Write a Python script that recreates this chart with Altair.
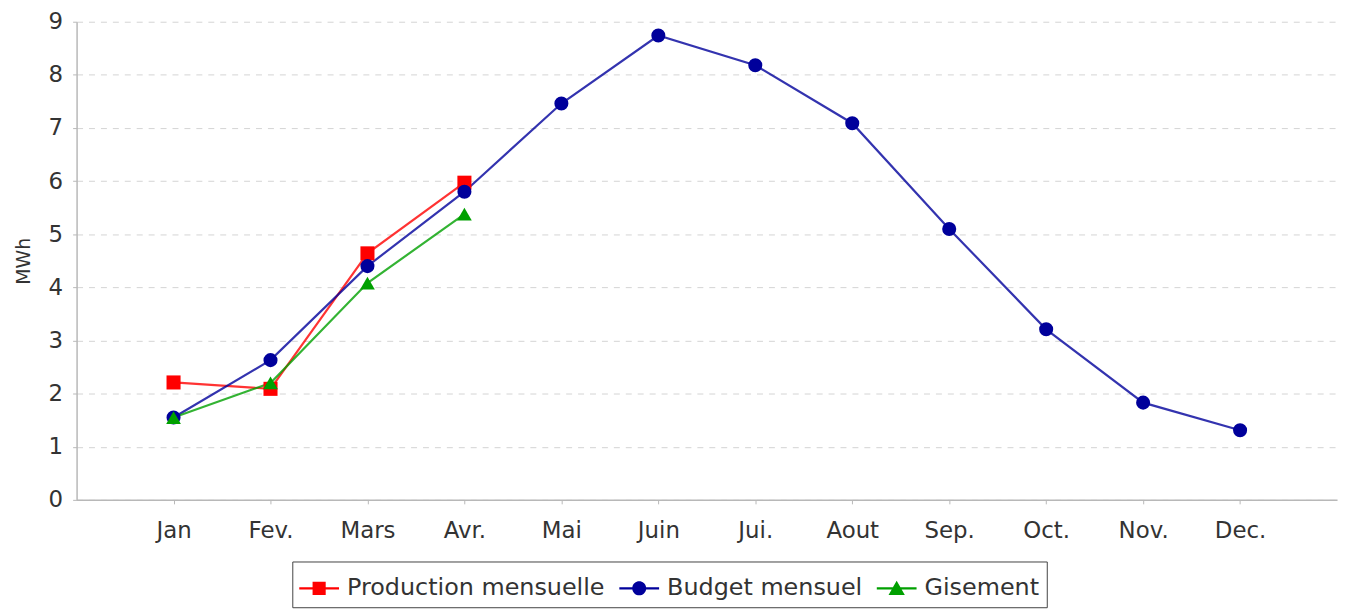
import altair as alt
import pandas as pd

months = ["Jan", "Fev.", "Mars", "Avr.", "Mai", "Juin", "Jui.", "Aout", "Sep.", "Oct.", "Nov.", "Dec."]
production = [2.21, 2.09, 4.64, 5.97]
budget = [1.55, 2.63, 4.40, 5.80, 7.46, 8.74, 8.18, 7.09, 5.10, 3.21, 1.83, 1.31]
gisement = [1.55, 2.20, 4.08, 5.38]
series_names = ["Production mensuelle", "Budget mensuel", "Gisement"]
colors = ["#ff0000", "#00009b", "#00a000"]
marker_shapes = ["square", "circle", "triangle-up"]
y_ticks = [0, 1, 2, 3, 4, 5, 6, 7, 8, 9]

legend_paths = [
    "M-1,-0.055H-0.33V-0.33H0.33V-0.055H1V0.055H0.33V0.33H-0.33V0.055H-1Z",
    "M-1,-0.055H-0.346A0.35,0.35 0 0 1 0.346,-0.055H1V0.055H0.346A0.35,0.35 0 0 1 -0.346,0.055H-1Z",
    "M-1,-0.055H-0.19L0,-0.38L0.19,-0.055H1V0.055H0.25L0.41,0.33H-0.41L-0.25,0.055H-1Z",
]

rows = []
for s_i, (name, vals) in enumerate(zip(series_names, [production, budget, gisement])):
    for m_i, (m, v) in enumerate(zip(months, vals)):
        rows.append({"month": m, "idx": m_i, "series": name, "s": s_i, "value": v})
df = pd.DataFrame(rows)

x = alt.X(
    "month:N",
    sort=months,
    scale=alt.Scale(domain=months, type="point", padding=1.03),
    axis=alt.Axis(title=None, labelAngle=0, grid=False, labelPadding=16),
)
y = alt.Y(
    "value:Q",
    scale=alt.Scale(domain=[0, 9], nice=False, zero=True),
    axis=alt.Axis(
        title="MWh", values=y_ticks, grid=True, gridDash=[6, 6], gridColor="#d4d4d4",
        labelPadding=10, titlePadding=15, format="d",
    ),
)
color_scale = alt.Scale(domain=series_names, range=colors)
color_plain = alt.Color("series:N", scale=color_scale, title=None)

base = alt.Chart(df)

# legend-only layer (no data drawn); first so its legend definition leads
legend_layer = base.transform_filter("false").mark_point(filled=True, opacity=1).encode(
    x=x,
    y=y,
    color=alt.Color("series:N", scale=color_scale, legend=alt.Legend(title=None)),
    shape=alt.Shape("series:N", scale=alt.Scale(domain=series_names, range=legend_paths),
                    legend=alt.Legend(title=None)),
)

lines = base.mark_line(strokeWidth=2.2, opacity=0.8).encode(
    x=x, y=y, color=color_plain, order="idx:Q"
)

point_layers = []
for name, shp, sz in zip(series_names, marker_shapes, [200, 200, 220]):
    point_layers.append(
        base.transform_filter(alt.datum.series == name)
        .mark_point(shape=shp, filled=True, size=sz, opacity=1)
        .encode(x=x, y=y, color=color_plain)
    )

chart = alt.layer(legend_layer, lines, *point_layers).properties(
    width=1268,
    height=481,
    autosize=alt.AutoSizeParams(type="none"),
    padding={"left": 69, "top": 12, "right": 7, "bottom": 112},
).configure_view(stroke=None).configure_axis(
    labelFont="DejaVu Sans", labelFontSize=23, labelColor="#333",
    titleFont="DejaVu Sans", titleFontSize=19, titleColor="#333", titleFontWeight="normal",
    domainColor="#b8b8b8", domainWidth=1.5, tickColor="#b8b8b8", tickSize=4,
).configure_legend(
    orient="none", legendX=217, legendY=543, direction="horizontal",
    strokeColor="#444", fillColor="white", padding=7,
    labelFont="DejaVu Sans", labelFontSize=24, labelColor="#333", labelLimit=0,
    symbolSize=1600, symbolStrokeWidth=0, symbolOpacity=1, labelOffset=8, columnPadding=14, symbolOffset=0,
)

chart.save("out.html", embed_options={"renderer": "svg", "actions": False})
